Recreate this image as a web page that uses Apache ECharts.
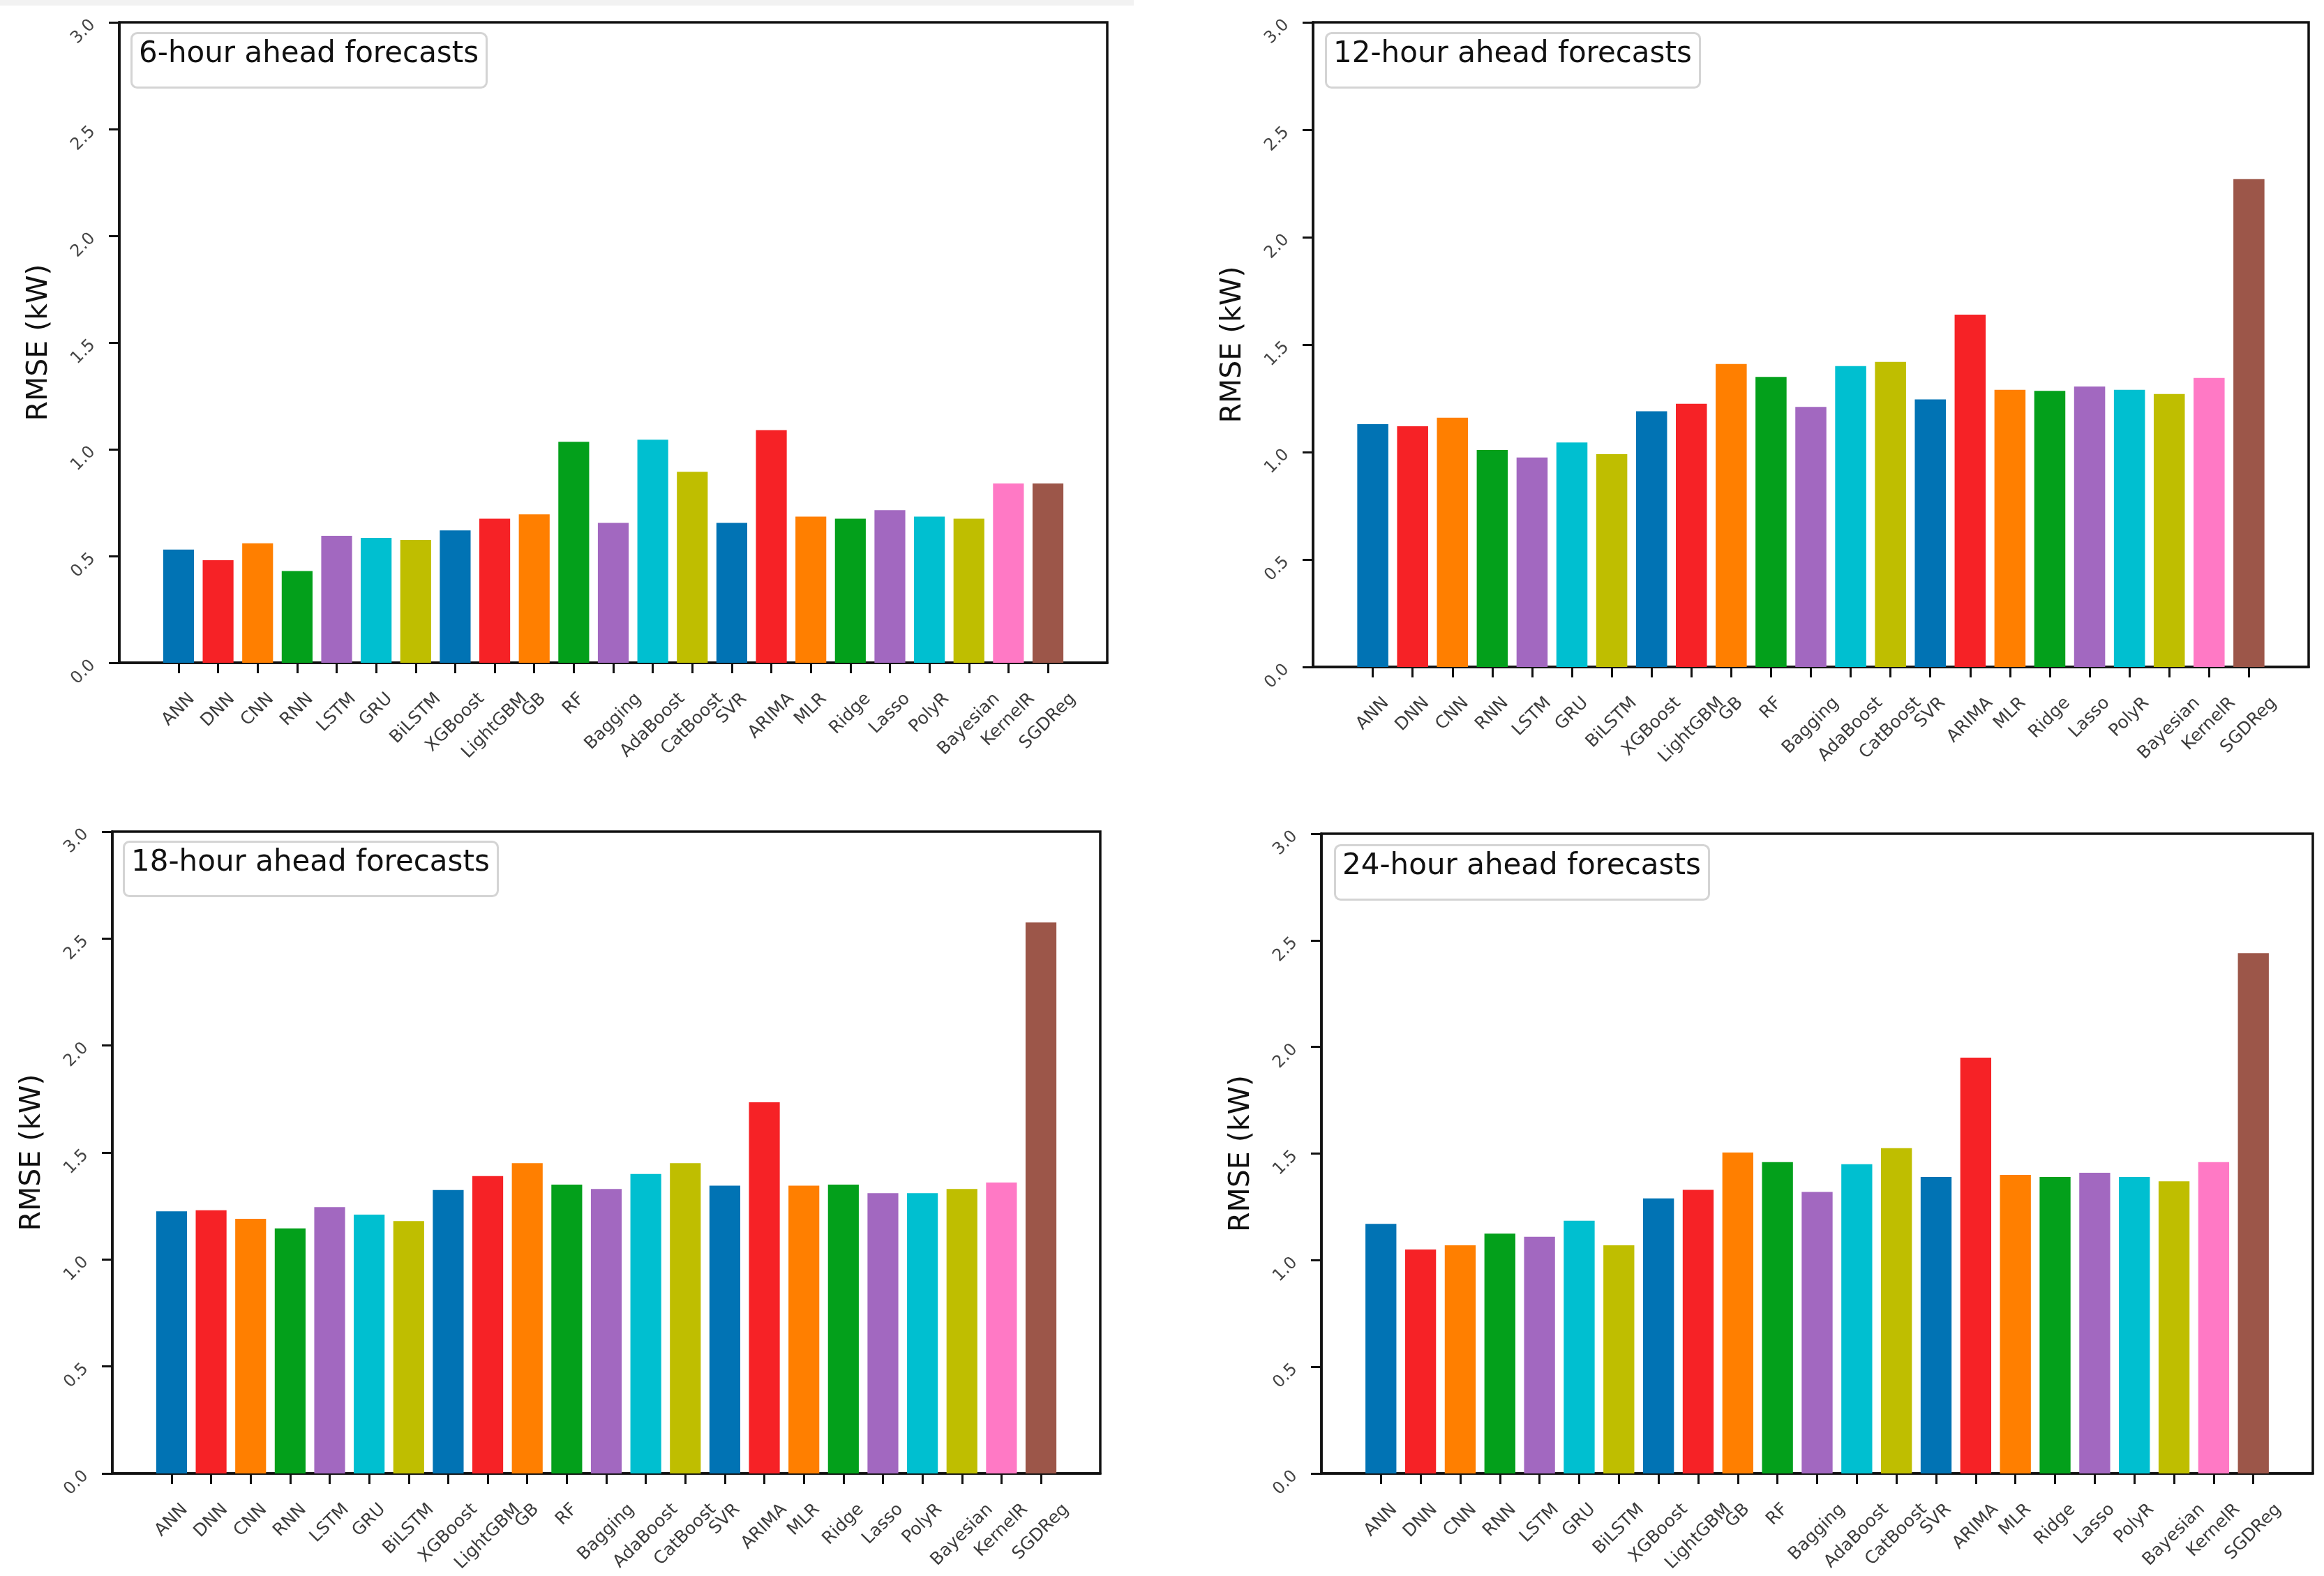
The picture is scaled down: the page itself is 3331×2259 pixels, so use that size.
<!DOCTYPE html>
<html>
<head>
<meta charset="utf-8">
<script src="https://cdn.jsdelivr.net/npm/echarts@6/dist/echarts.min.js"></script>
<style>
html,body{margin:0;padding:0;background:#fff;}
#chart{width:3331px;height:2259px;}
</style>
</head>
<body>
<div id="chart"></div>
<script>
// ---------------- data ----------------
const categories = ['ANN','DNN','CNN','RNN','LSTM','GRU','BiLSTM','XGBoost','LightGBM','GB','RF','Bagging','AdaBoost','CatBoost','SVR','ARIMA','MLR','Ridge','Lasso','PolyR','Bayesian','KernelR','SGDReg'];
const barColors = ['#0173b4','#f62226','#ff7f00','#03a01b','#a268c0','#00bfd0','#bfbe00',
                   '#0173b4','#f62226','#ff7f00','#03a01b','#a268c0','#00bfd0','#bfbe00',
                   '#0173b4','#f62226','#ff7f00','#03a01b','#a268c0','#00bfd0','#bfbe00',
                   '#ff79c5','#9c5649'];
const rmse6h  = [0.53,0.48,0.56,0.43,0.595,0.585,0.575,0.62,0.675,0.695,1.035,0.655,1.045,0.895,0.655,1.09,0.685,0.675,0.715,0.685,0.675,0.84,0.84];
const rmse12h = [1.13,1.12,1.16,1.01,0.975,1.045,0.99,1.19,1.225,1.41,1.35,1.21,1.40,1.42,1.245,1.64,1.29,1.285,1.305,1.29,1.27,1.345,2.27];
const rmse18h = [1.225,1.23,1.19,1.145,1.245,1.21,1.18,1.325,1.39,1.45,1.35,1.33,1.40,1.45,1.345,1.735,1.345,1.35,1.31,1.31,1.33,1.36,2.575];
const rmse24h = [1.17,1.05,1.07,1.125,1.11,1.185,1.07,1.29,1.33,1.505,1.46,1.32,1.45,1.525,1.39,1.95,1.40,1.39,1.41,1.39,1.37,1.46,2.44];
const panelTitles = ['6-hour ahead forecasts','12-hour ahead forecasts','18-hour ahead forecasts','24-hour ahead forecasts'];
const yAxisName = 'RMSE (kW)';
const yMin = 0, yMax = 3.0, yStep = 0.5;

// ---------------- layout / style ----------------
const seriesList = [rmse6h, rmse12h, rmse18h, rmse24h];
const grids = [
  {left:171,  top:32,   width:1416, height:918},
  {left:1882, top:32,   width:1427, height:924},
  {left:161,  top:1192, width:1416, height:920},
  {left:1894, top:1195, width:1421, height:917}
];
const titleBoxes = [
  {left:188,  top:47},
  {left:1900, top:47},
  {left:177,  top:1206},
  {left:1913, top:1211}
];
const FONT = '"DejaVu Sans", Verdana, sans-serif';
const XFS = 25;   // x tick label font size
const YFS = 24;   // y tick label font size

const cv = document.createElement('canvas').getContext('2d');
cv.font = XFS + 'px "DejaVu Sans"';
// centre the rotated label's bounding box under its tick (matplotlib ha="center", va="top")
function labelStyle(t){
  const L = cv.measureText(t).width; const p = 0.5*(L + XFS);
  return {align:'center', verticalAlign:'top', lineHeight:p, padding:[0,p,0,0]};
}

const xData = [{value:' '}].concat(categories.map(c => ({value:c, textStyle:labelStyle(c)}))).concat([{value:'  '}]);

const option = {
  animation:false,
  backgroundColor:'#ffffff',
  graphic:[{type:'rect', shape:{x:0,y:0,width:1625,height:8}, style:{fill:'#f2f2f2'}, silent:true}],
  title: panelTitles.map((t,i) => ({
    text:t, left:titleBoxes[i].left, top:titleBoxes[i].top,
    padding:[8,12,25,11],
    borderColor:'#d4d4d4', borderWidth:3, borderRadius:8, backgroundColor:'#ffffff',
    textStyle:{fontFamily:FONT, fontSize:42, fontWeight:'normal', color:'#111', lineHeight:46},
    z:10
  })),
  grid: grids.map(g => Object.assign({show:true, borderColor:'#111', borderWidth:3.5, backgroundColor:'transparent', outerBoundsMode:'none', containLabel:false}, g)),
  xAxis: grids.map((g,i) => ({
    type:'category', gridIndex:i, data:xData, boundaryGap:true,
    axisLine:{show:true, lineStyle:{color:'#111', width:3.5}},
    axisTick:{show:true, alignWithLabel:true, length:15, lineStyle:{color:'#111', width:3},
              interval:(idx) => idx > 0 && idx <= categories.length},
    axisLabel:{interval:0, rotate:45, margin:39, align:'center', verticalAlign:'top',
               fontFamily:FONT, fontSize:XFS, color:'#3c3c3c'},
    splitLine:{show:false}
  })),
  yAxis: grids.map((g,i) => ({
    type:'value', gridIndex:i, min:yMin, max:yMax, interval:yStep,
    name:yAxisName, nameLocation:'middle', nameGap:94, nameMoveOverlap:false,
    nameTextStyle:{fontFamily:FONT, fontSize:41, color:'#111'},
    axisLine:{show:true, lineStyle:{color:'#111', width:3.5}},
    axisTick:{show:true, length:15, lineStyle:{color:'#111', width:3}},
    axisLabel:{rotate:45, margin:38, fontFamily:FONT, fontSize:YFS, color:'#444',
               formatter:(v) => v.toFixed(1)},
    splitLine:{show:false}
  })),
  series: seriesList.map((vals,i) => ({
    type:'bar', xAxisIndex:i, yAxisIndex:i, barWidth:'78%',
    data:['-'].concat(vals.map((v,k) => ({value:v, itemStyle:{color:barColors[k]}}))).concat(['-'])
  }))
};

const chart = echarts.init(document.getElementById('chart'), null, {renderer:'canvas'});
chart.setOption(option);
</script>
</body>
</html>
